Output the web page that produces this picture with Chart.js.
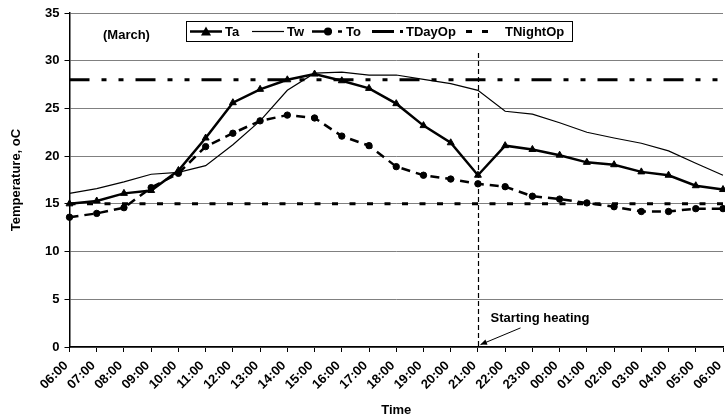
<!DOCTYPE html>
<html>
<head>
<meta charset="utf-8">
<script src="https://cdn.jsdelivr.net/npm/chart.js@4/dist/chart.umd.min.js"></script>
<style>
  html, body { margin: 0; padding: 0; background: #fff; overflow: hidden; width: 725px; height: 419px; }
  canvas { display: block; }
</style>
</head>
<body>
<canvas id="c" width="728" height="419"></canvas>
<script>
const labels = ['06:00','07:00','08:00','09:00','10:00','11:00','12:00','13:00','14:00','15:00','16:00','17:00','18:00','19:00','20:00','21:00','22:00','23:00','00:00','01:00','02:00','03:00','04:00','05:00','06:00'];
const Ta = [15.0,15.3,16.1,16.4,18.5,21.9,25.6,27.0,28.0,28.6,27.9,27.1,25.5,23.2,21.4,18.0,21.1,20.7,20.1,19.35,19.1,18.35,18.0,16.9,16.5];
const Tw = [16.1,16.6,17.3,18.1,18.3,19.0,21.2,23.7,26.9,28.7,28.8,28.5,28.5,28.05,27.6,26.9,24.7,24.4,23.5,22.5,21.9,21.35,20.55,19.25,18.0];
const To = [13.6,14.0,14.6,16.7,18.2,21.0,22.4,23.7,24.3,24.0,22.1,21.1,18.9,18.0,17.6,17.1,16.8,15.8,15.5,15.1,14.7,14.2,14.2,14.5,14.5];
const TDayOp = labels.map(() => 28);
const TNightOp = labels.map(() => 15);
const heatingIndex = 15;
const yTicks = { min: 0, max: 35, step: 5 };

const FONT = 'Liberation Sans, Arial, sans-serif';
const FS = 13;

const decor = {
  id: 'decor',
  afterDatasetsDraw(chart) {
    const ctx = chart.ctx;
    const xs = chart.scales.x, ys = chart.scales.y;
    const ca = chart.chartArea;
    const x = Math.round(xs.getPixelForValue(heatingIndex)) + 0.5;
    ctx.save();
    ctx.strokeStyle = '#000';
    ctx.lineWidth = 1.2;
    ctx.setLineDash([5, 3]);
    ctx.beginPath();
    ctx.moveTo(x, ys.getPixelForValue(30.8));
    ctx.lineTo(x, ca.bottom);
    ctx.stroke();
    ctx.setLineDash([]);
    const x1 = x + 42, y1 = ys.getPixelForValue(2);
    const x2 = x + 2, y2 = ys.getPixelForValue(0.25);
    ctx.lineWidth = 1;
    ctx.beginPath();
    ctx.moveTo(x1, y1); ctx.lineTo(x2, y2); ctx.stroke();
    const ang = Math.atan2(y2 - y1, x2 - x1);
    ctx.beginPath();
    ctx.moveTo(x2, y2);
    ctx.lineTo(x2 - 7 * Math.cos(ang - 0.4), y2 - 7 * Math.sin(ang - 0.4));
    ctx.lineTo(x2 - 7 * Math.cos(ang + 0.4), y2 - 7 * Math.sin(ang + 0.4));
    ctx.closePath();
    ctx.fillStyle = '#000';
    ctx.fill();
    ctx.font = 'bold ' + FS + 'px ' + FONT;
    ctx.textAlign = 'left';
    ctx.textBaseline = 'middle';
    ctx.fillText('Starting heating', x + 12, ys.getPixelForValue(3));
    ctx.fillText('(March)', 103, 35);
    ctx.restore();
  },
  afterDraw(chart) {
    const ctx = chart.ctx;
    ctx.save();
    ctx.fillStyle = '#fff';
    ctx.fillRect(186.5, 21.5, 386, 20);
    ctx.strokeStyle = '#000';
    ctx.lineWidth = 1;
    ctx.strokeRect(186.5, 21.5, 386, 20);
    const ly = 31.5;
    function seg(x0, x1, w, dash) {
      ctx.lineWidth = w;
      ctx.setLineDash(dash || []);
      ctx.beginPath(); ctx.moveTo(x0, ly); ctx.lineTo(x1, ly); ctx.stroke();
      ctx.setLineDash([]);
    }
    ctx.fillStyle = '#000';
    seg(190, 222, 2.5);
    ctx.beginPath();
    ctx.moveTo(206, ly - 5); ctx.lineTo(211, ly + 4); ctx.lineTo(201, ly + 4); ctx.closePath(); ctx.fill();
    seg(252, 284, 1.2);
    seg(312, 344, 2.5, [20, 6, 4, 6]);
    ctx.beginPath(); ctx.arc(328, ly, 4, 0, Math.PI * 2); ctx.fill();
    seg(372, 404, 3, [22, 6, 3, 40]);
    seg(466, 492, 3, [6, 10]);
    ctx.font = 'bold ' + FS + 'px ' + FONT;
    ctx.textAlign = 'left';
    ctx.textBaseline = 'middle';
    ctx.fillText('Ta', 225, ly + 1);
    ctx.fillText('Tw', 287, ly + 1);
    ctx.fillText('To', 346, ly + 1);
    ctx.fillText('TDayOp', 406, ly + 1);
    ctx.fillText('TNightOp', 505, ly + 1);
    ctx.restore();
  }
};

new Chart(document.getElementById('c'), {
  type: 'line',
  data: {
    labels: labels,
    datasets: [
      { label: 'Ta', data: Ta, borderColor: '#000', backgroundColor: '#000', borderWidth: 2.5,
        pointStyle: 'triangle', pointRadius: 4, pointBorderWidth: 1, tension: 0 },
      { label: 'Tw', data: Tw, borderColor: '#000', borderWidth: 1.2, pointRadius: 0, tension: 0 },
      { label: 'To', data: To, borderColor: '#000', backgroundColor: '#000', borderWidth: 2.5,
        borderDash: [9, 6], pointStyle: 'circle', pointRadius: 3.2, pointBorderWidth: 1, tension: 0 },
      { label: 'TDayOp', data: TDayOp, borderColor: '#000', borderWidth: 3,
        borderDash: [20, 12, 5, 12, 5, 12], pointRadius: 0, tension: 0 },
      { label: 'TNightOp', data: TNightOp, borderColor: '#000', borderWidth: 3,
        borderDash: [6, 11.5], pointRadius: 0, tension: 0 }
    ]
  },
  options: {
    responsive: false,
    animation: false,
    devicePixelRatio: 1,
    layout: { padding: { top: 13, right: 0, left: 0, bottom: 0 } },
    plugins: { legend: { display: false }, tooltip: { enabled: false } },
    scales: {
      x: {
        type: 'category',
        offset: false,
        grid: { display: true, drawOnChartArea: false, tickLength: 5, tickColor: '#000' },
        border: { color: '#000', width: 1.5 },
        ticks: { autoSkip: false, minRotation: 45, maxRotation: 45, padding: 6, labelOffset: -3.5, color: '#000',
                 font: { family: FONT, size: FS, weight: 'bold' } },
        title: { display: true, text: 'Time', color: '#000', padding: { top: 0, bottom: 1.2 },
                 font: { family: FONT, size: FS, weight: 'bold' } },
        afterFit(s) { s.height = 72; s.paddingRight = 0; s.paddingLeft = 0; }
      },
      y: {
        min: yTicks.min, max: yTicks.max,
        grid: { color: '#808080', lineWidth: 1, tickLength: 5, tickColor: '#000' },
        border: { color: '#000', width: 1.5 },
        ticks: { stepSize: yTicks.step, padding: 5, color: '#000',
                 font: { family: FONT, size: FS, weight: 'bold' } },
        title: { display: true, text: 'Temperature, oC', color: '#000', padding: { top: 8.5, bottom: 0 },
                 font: { family: FONT, size: FS, weight: 'bold' } },
        afterFit(s) { s.width = 69.5; s.paddingTop = 0; s.paddingBottom = 0; }
      }
    }
  },
  plugins: [decor]
});
</script>
</body>
</html>
